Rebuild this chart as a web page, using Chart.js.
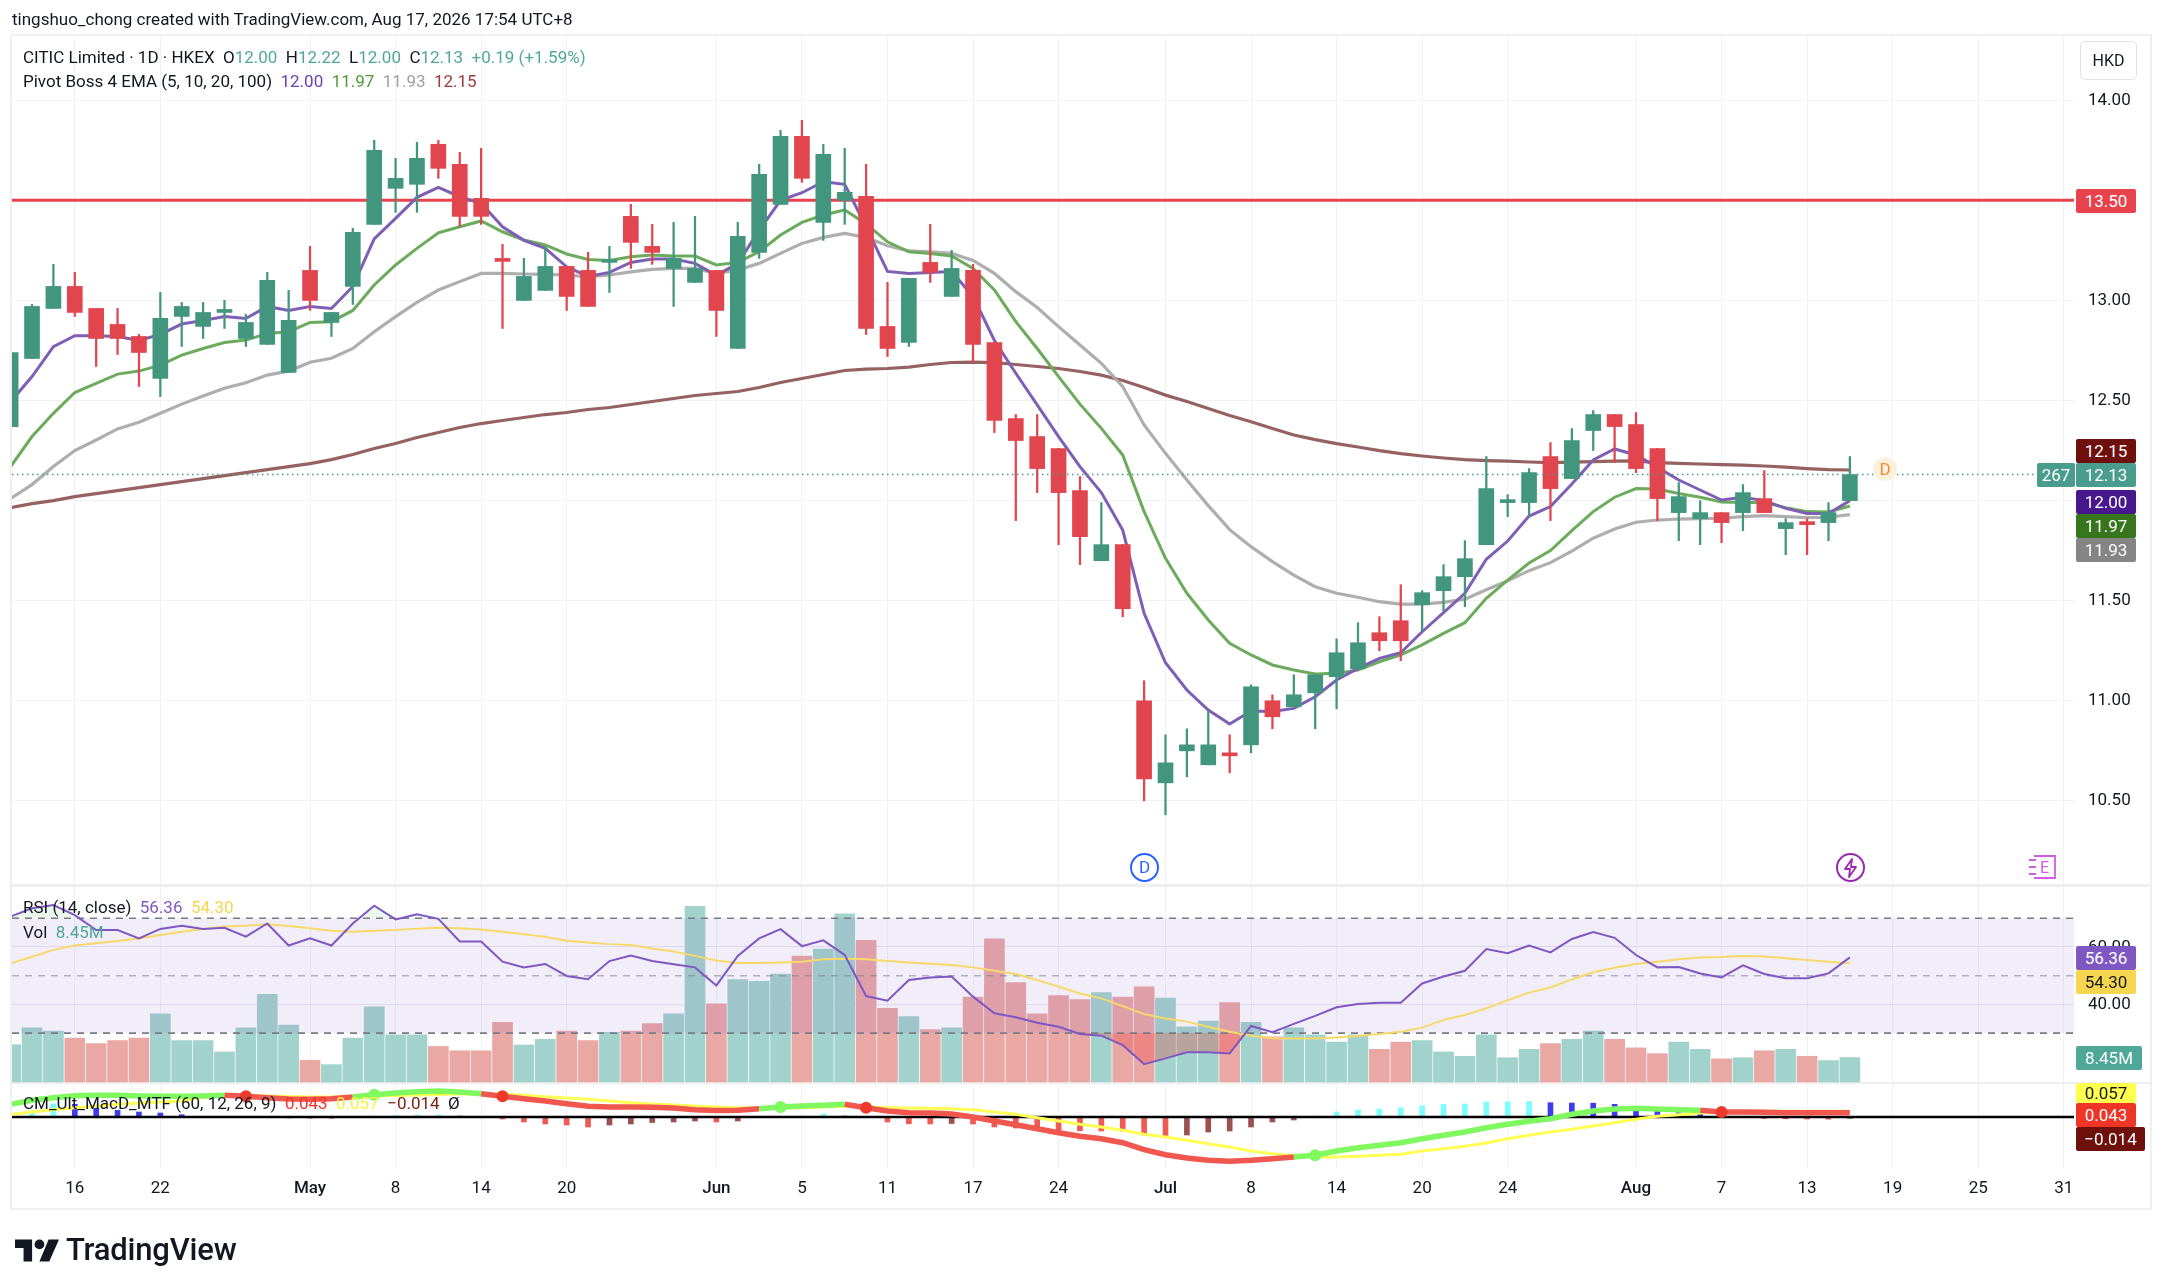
<!DOCTYPE html>
<html>
<head>
<meta charset="utf-8">
<title>CITIC Limited</title>
<script src="https://cdn.jsdelivr.net/npm/chart.js@4"></script>
<style>
  html, body { margin: 0; padding: 0; background: #fff; }
  body { width: 2162px; height: 1286px; position: relative; overflow: hidden; font-family: Roboto, sans-serif; color: #131722; }
  canvas { position: absolute; left: 0; top: 0; }
  .frame { position: absolute; left: 10px; top: 34px; width: 2138px; height: 1172px; border: 2px solid #f0f0f0; }
  .txt { position: absolute; white-space: pre; font-size: 17px; line-height: 20px; }
  .tag { position: absolute; left: 2076px; width: 60px; height: 24px; line-height: 24px; text-align: center; font-size: 17px; color: #fff; border-radius: 2px; }
  .up { color: #4fa897; } .pu { color: #6a3fb0; } .gr { color: #4f9a3c; } .gy { color: #a0a0a0; } .br { color: #a03c3c; }
  .hkd { position: absolute; left: 2080px; top: 41px; width: 55px; height: 37px; line-height: 37px; border: 1px solid #e0e3eb; border-radius: 5px; text-align: center; font-size: 16px; }
  .ico { position: absolute; }
</style>
</head>
<body>
<div class="frame"></div>
<canvas id="chart" width="2162" height="1286"></canvas>

<div class="txt" style="left:12px;top:9px">tingshuo_chong created with TradingView.com, Aug 17, 2026 17:54 UTC+8</div>
<div class="txt" style="left:23px;top:47px">CITIC Limited · 1D · HKEX  O<span class="up">12.00</span>  H<span class="up">12.22</span>  L<span class="up">12.00</span>  C<span class="up">12.13</span>  <span class="up">+0.19 (+1.59%)</span></div>
<div class="txt" style="left:23px;top:71px">Pivot Boss 4 EMA (5, 10, 20, 100)  <span class="pu">12.00</span>  <span class="gr">11.97</span>  <span class="gy">11.93</span>  <span class="br">12.15</span></div>
<div class="txt" style="left:23px;top:897px">RSI (14, close)  <span style="color:#7e57c2">56.36</span>  <span style="color:#f7d64f">54.30</span></div>
<div class="txt" style="left:23px;top:922px">Vol  <span class="up">8.45M</span></div>
<div class="txt" style="left:23px;top:1093px">CM_Ult_MacD_MTF (60, 12, 26, 9)  <span style="color:#f0352a">0.043</span>  <span style="color:#f5f53c">0.057</span>  <span style="color:#7a1f14">−0.014</span>  Ø</div>

<div class="hkd">HKD</div>
<div class="txt" style="left:2088px;top:936px">60.00</div>
<div class="txt" style="left:2088px;top:993px">40.00</div>
<div class="tag" style="top:189px;background:#e8434c">13.50</div>
<div class="tag" style="top:439px;background:#6e100b">12.15</div>
<div class="tag" style="top:463px;left:2037px;width:38px;background:#4a9c8c">267</div>
<div class="tag" style="top:463px;background:#4a9c8c">12.13</div>
<div class="tag" style="top:490px;background:#47178e">12.00</div>
<div class="tag" style="top:514px;background:#38761d">11.97</div>
<div class="tag" style="top:538px;background:#858585">11.93</div>
<div class="tag" style="top:946px;background:#7e57c2">56.36</div>
<div class="tag" style="top:970px;background:#f7d64f;color:#131722">54.30</div>
<div class="tag" style="top:1046px;width:66px;background:#4fa897">8.45M</div>
<div class="tag" style="top:1083px;height:20px;line-height:20px;background:#ffff4d;color:#131722">0.057</div>
<div class="tag" style="top:1103px;background:#ee3526">0.043</div>
<div class="tag" style="top:1127px;width:69px;background:#6e100b">−0.014</div>

<div class="ico" style="left:1130px;top:853px;width:25px;height:25px;border:2.5px solid #2962ff;border-radius:50%;color:#2962ff;text-align:center;line-height:25px;font-size:17px">D</div>
<div class="ico" style="left:1836px;top:853px;width:25px;height:25px;border:2.5px solid #9c27b0;border-radius:50%"></div>
<svg class="ico" style="left:1842px;top:858px" width="18" height="20" viewBox="0 0 18 20"><path d="M10 1L3 11h5l-1 8 7-10H9z" fill="none" stroke="#9c27b0" stroke-width="1.8" stroke-linejoin="round"/></svg>
<svg class="ico" style="left:2027px;top:854px" width="30" height="26" viewBox="0 0 30 26"><path d="M7 2h21v22H7M2 6h7M2 13h7M2 20h7" fill="none" stroke="#d05ce3" stroke-width="1.8"/><text x="13" y="19" font-size="16" font-family="Roboto" fill="#d05ce3">E</text></svg>
<div class="ico" style="left:1873px;top:457px;width:24px;height:24px;border-radius:50%;background:#fdf0df;color:#f28c28;text-align:center;line-height:24px;font-size:17px">D</div>

<svg class="ico" style="left:15px;top:1237px" width="44" height="27" viewBox="0 0 36 22"><path d="M14 20H7V9H0V2h14zM28 20h-8l7.5-18H36z" fill="#131722"/><circle cx="20" cy="6" r="4" fill="#131722"/></svg>
<div class="txt" style="left:66px;top:1231px;font-size:31px;line-height:38px;font-weight:500;letter-spacing:-.2px">TradingView</div>

<script>
// one value per trading bar
const open = [
  12.37,12.71,12.96,13.07,12.96,12.88,12.82,12.61,12.92,12.87,
  12.94,12.81,12.78,12.64,13.15,12.89,13.07,13.38,13.56,13.58,
  13.78,13.68,13.51,13.21,13.00,13.05,13.17,13.15,13.19,13.42,
  13.27,13.16,13.09,13.15,12.76,13.24,13.48,13.82,13.39,13.50,
  13.52,12.87,12.79,13.19,13.02,13.15,12.79,12.41,12.32,12.26,
  12.05,11.70,11.78,11.00,10.59,10.75,10.68,10.74,10.78,11.00,
  10.97,11.04,11.12,11.16,11.34,11.40,11.48,11.55,11.62,11.78,
  11.99,11.99,12.22,12.11,12.35,12.43,12.38,12.26,11.94,11.91,
  11.94,11.94,12.01,11.86,11.895,11.89,12.00];
const high = [
  12.74,12.98,13.18,13.14,12.96,12.96,12.83,13.04,12.99,12.99,
  13.00,12.93,13.14,13.05,13.27,12.94,13.36,13.80,13.71,13.79,
  13.80,13.74,13.76,13.28,13.21,13.27,13.17,13.24,13.27,13.48,
  13.38,13.39,13.42,13.15,13.39,13.68,13.85,13.90,13.78,13.76,
  13.68,13.09,13.11,13.38,13.25,13.18,12.79,12.43,12.43,12.26,
  12.12,11.99,11.78,11.10,10.83,10.86,10.95,10.83,11.08,11.03,
  11.13,11.13,11.31,11.39,11.42,11.58,11.55,11.68,11.80,12.22,
  12.03,12.16,12.29,12.36,12.45,12.43,12.44,12.26,12.09,12.00,
  11.94,12.08,12.15,11.91,11.91,11.99,12.22];
const low = [
  12.37,12.71,12.96,12.92,12.67,12.73,12.57,12.52,12.77,12.81,
  12.86,12.77,12.78,12.64,12.95,12.82,12.98,13.38,13.44,13.44,
  13.61,13.37,13.38,12.86,13.00,13.05,12.95,12.97,13.04,13.16,
  13.18,12.97,13.09,12.82,12.76,13.21,13.48,13.59,13.30,13.38,
  12.83,12.72,12.77,13.09,13.02,12.69,12.34,11.90,12.04,11.78,
  11.68,11.70,11.42,10.50,10.43,10.62,10.68,10.64,10.74,10.86,
  10.97,10.86,10.96,11.16,11.25,11.20,11.35,11.45,11.47,11.78,
  11.92,11.92,11.90,12.11,12.25,12.19,12.14,11.90,11.80,11.78,
  11.79,11.85,11.94,11.73,11.73,11.80,12.00];
const close = [
  12.74,12.97,13.07,12.94,12.81,12.81,12.74,12.91,12.97,12.94,
  12.955,12.89,13.10,12.90,13.00,12.94,13.34,13.75,13.61,13.71,
  13.66,13.42,13.42,13.195,13.12,13.17,13.02,12.97,13.205,13.29,
  13.24,13.21,13.16,12.95,13.32,13.63,13.82,13.61,13.73,13.54,
  12.86,12.76,13.11,13.14,13.16,12.78,12.40,12.30,12.16,12.04,
  11.82,11.78,11.46,10.61,10.69,10.78,10.78,10.725,11.07,10.92,
  11.03,11.13,11.24,11.29,11.30,11.30,11.54,11.62,11.71,12.06,
  12.005,12.14,12.06,12.30,12.43,12.37,12.16,12.01,12.02,11.94,
  11.89,12.04,11.94,11.89,11.88,11.94,12.13];

const ema5 = [
  12.494,12.62,12.769,12.824,12.824,12.82,12.80,12.83,12.882,12.90,
  12.92,12.91,12.97,12.95,12.97,12.96,13.07,13.307,13.41,13.515,
  13.565,13.518,13.485,13.368,13.30,13.26,13.168,13.12,13.14,13.19,
  13.207,13.207,13.185,13.125,13.185,13.35,13.50,13.538,13.593,13.58,
  13.368,13.145,13.135,13.14,13.144,13.02,12.80,12.636,12.478,12.32,
  12.17,12.04,11.853,11.437,11.19,11.054,10.954,10.884,10.949,10.946,
  10.962,11.02,11.104,11.162,11.212,11.24,11.345,11.44,11.537,11.707,
  11.798,11.923,11.97,12.083,12.203,12.258,12.228,12.166,12.103,12.053,
  12.003,12.017,12.00,11.961,11.936,11.936,12.00];
const ema10 = [
  12.17,12.32,12.436,12.54,12.586,12.632,12.647,12.677,12.727,12.76,
  12.79,12.802,12.835,12.844,12.89,12.894,12.95,13.077,13.177,13.26,
  13.338,13.368,13.397,13.343,13.302,13.277,13.232,13.205,13.20,13.218,
  13.227,13.222,13.222,13.177,13.19,13.243,13.327,13.39,13.427,13.452,
  13.382,13.293,13.243,13.235,13.222,13.16,13.052,12.894,12.76,12.619,
  12.482,12.361,12.228,11.945,11.712,11.537,11.404,11.287,11.229,11.179,
  11.154,11.134,11.137,11.154,11.195,11.229,11.279,11.337,11.39,11.512,
  11.603,11.688,11.75,11.85,11.945,12.017,12.06,12.058,12.036,12.017,
  11.993,11.991,11.99,11.965,11.945,11.943,11.973];
const ema20 = [
  12.01,12.08,12.17,12.25,12.303,12.358,12.391,12.436,12.482,12.522,
  12.561,12.589,12.627,12.647,12.691,12.711,12.76,12.844,12.919,12.99,
  13.052,13.094,13.135,13.135,13.132,13.13,13.127,13.118,13.127,13.143,
  13.155,13.16,13.16,13.135,13.152,13.185,13.235,13.285,13.315,13.335,
  13.315,13.273,13.248,13.243,13.235,13.20,13.135,13.044,12.965,12.869,
  12.777,12.686,12.569,12.378,12.236,12.103,11.975,11.855,11.77,11.695,
  11.628,11.57,11.537,11.517,11.495,11.483,11.483,11.492,11.508,11.555,
  11.60,11.65,11.69,11.748,11.812,11.858,11.892,11.903,11.908,11.91,
  11.912,11.92,11.925,11.92,11.915,11.917,11.93];
const ema100 = [
  11.965,11.985,12.00,12.02,12.035,12.05,12.065,12.08,12.095,12.11,
  12.125,12.14,12.155,12.17,12.185,12.205,12.23,12.26,12.285,12.315,
  12.34,12.365,12.385,12.40,12.415,12.43,12.44,12.455,12.465,12.48,
  12.495,12.51,12.525,12.535,12.545,12.565,12.59,12.61,12.63,12.65,
  12.657,12.66,12.667,12.68,12.69,12.692,12.69,12.68,12.67,12.66,
  12.645,12.627,12.60,12.565,12.527,12.495,12.46,12.425,12.394,12.36,
  12.328,12.305,12.285,12.268,12.25,12.235,12.223,12.213,12.205,12.20,
  12.197,12.193,12.19,12.192,12.195,12.197,12.198,12.19,12.186,12.183,
  12.18,12.177,12.173,12.167,12.16,12.155,12.153];

const rsi = [
  70.6,73.5,74.6,71.1,65.9,65.9,63.0,66.3,67.4,66.3,
  66.7,63.6,68.2,60.5,63.0,60.5,68.2,74.4,69.6,71.4,
  69.8,61.9,61.9,54.9,52.9,54.1,49.9,48.8,55.1,57.0,
  55.1,54.0,52.9,46.6,56.9,63.0,66.2,60.3,62.3,57.2,
  42.9,41.3,48.5,49.4,49.7,42.7,36.9,35.5,33.6,32.2,
  29.7,29.1,25.8,19.2,21.2,23.3,23.3,22.9,32.5,30.3,
  33.2,36.0,39.0,40.1,40.6,40.6,47.3,49.7,51.7,59.3,
  57.8,60.5,58.1,62.8,65.2,63.2,57.2,52.9,53.0,50.8,
  49.4,53.6,50.6,49.1,49.1,50.8,56.4];
const rsiMa = [
  54.3,56.6,59.0,60.5,61.3,62.1,63.0,64.2,65.3,66.3,
  67.1,67.4,67.9,67.3,66.5,65.7,65.3,65.7,65.9,66.4,
  66.7,66.5,66.1,65.3,64.4,63.6,62.2,61.6,61.0,60.7,
  59.5,58.4,56.9,55.3,54.4,54.4,54.6,54.9,55.7,55.9,
  55.7,55.1,54.6,54.2,53.7,52.9,51.7,50.6,48.5,46.2,
  43.8,42.1,39.4,36.6,35.1,34.0,32.2,30.5,29.1,28.2,
  28.1,28.1,28.5,29.0,29.7,30.5,31.9,34.6,36.3,38.6,
  41.5,44.1,45.9,48.7,51.2,52.8,54.1,54.9,55.7,56.3,
  56.5,56.9,56.7,56.1,55.5,54.9,54.3];
const rsiLevels = [70, 50, 30];

const volume = [
  12.9,18.7,17.6,15.2,13.3,14.3,15.2,23.6,14.3,14.3,
  10.4,18.7,30.3,19.7,7.5,6.0,15.2,26.0,16.3,16.3,
  12.3,10.8,10.8,20.6,12.8,14.8,17.6,14.3,17.2,17.6,
  20.2,23.6,60.8,27.0,35.4,34.8,37.3,43.6,46.0,58.2,
  49.0,25.5,22.6,18.1,18.7,29.4,49.5,34.4,23.6,29.9,
  28.5,30.9,29.4,32.9,29.0,19.1,21.1,27.5,20.6,15.6,
  18.7,16.3,13.8,16.3,11.3,13.8,14.3,10.4,8.9,16.3,
  8.4,11.3,13.3,14.8,17.6,14.8,11.8,9.8,13.8,11.3,
  8.0,8.4,10.8,11.3,8.9,7.4,8.45];

const macd = [
  .127,.167,.193,.213,.217,.217,.21,.207,.207,.21,
  .217,.207,.193,.18,.177,.183,.2,.223,.24,.253,
  .26,.25,.233,.207,.183,.16,.133,.107,.1,.1,
  .097,.09,.073,.065,.067,.083,.1,.11,.117,.127,
  .093,.06,.043,.04,.03,0,-.04,-.077,-.117,-.157,
  -.193,-.217,-.257,-.327,-.377,-.41,-.433,-.443,-.433,-.417,
  -.4,-.383,-.34,-.307,-.283,-.257,-.217,-.183,-.15,-.107,
  -.073,-.043,-.017,.027,.06,.08,.087,.08,.073,.067,
  .05,.05,.047,.043,.043,.043,.043];
const signal = [
  .027,.05,.073,.093,.107,.127,.14,.15,.16,.2,
  .212,.215,.21,.205,.2,.2,.205,.21,.215,.22,
  .225,.23,.232,.227,.217,.203,.19,.177,.16,.143,
  .13,.12,.11,.1,.093,.09,.093,.093,.1,.107,
  .1,.093,.09,.087,.083,.073,.05,.027,-.007,-.04,
  -.073,-.1,-.133,-.173,-.2,-.233,-.267,-.3,-.34,-.367,
  -.387,-.4,-.4,-.393,-.383,-.373,-.34,-.317,-.293,-.26,
  -.217,-.183,-.15,-.123,-.09,-.057,-.023,.007,.023,.04,
  .053,.057,.057,.057,.057,.057,.057];
const hist = [
  .01,.05,.133,.127,.09,.067,.05,.04,.023,.005,
  .002,0,-.002,-.01,-.012,-.013,0,.01,.015,.018,
  .02,.01,.002,-.02,-.05,-.07,-.08,-.1,-.08,-.07,
  -.055,-.05,-.04,-.05,-.04,0,0,.01,.03,.01,
  0,-.05,-.068,-.07,-.065,-.07,-.1,-.11,-.13,-.135,
  -.138,-.14,-.142,-.18,-.185,-.18,-.15,-.14,-.1,-.05,
  -.03,.01,.05,.07,.08,.093,.11,.125,.13,.15,
  .152,.155,.143,.14,.138,.127,.097,.07,.043,.027,
  0,0,-.015,-.018,-.02,-.022,-.014];
const macdCross = [11, 17, 23, 36, 40, 61, 80];

const tickBars = [3, 7, 14, 18, 22, 26, 33, 37, 41, 45, 49, 54, 58, 62, 66, 70, 76, 80, 84, 88, 92, 96];
const tickLabels = ["16", "22", "May", "8", "14", "20", "Jun", "5", "11", "17", "24", "Jul", "8", "14", "20", "24", "Aug", "7", "13", "19", "25", "31"];
const priceTicks = [10.5, 11, 11.5, 12, 12.5, 13, 13.5, 14];
const rsiTicks = [40, 60];
const resistance = 13.5;
const lastClose = 12.13;

const UP = "#43967e", DOWN = "#e1454e";
const xMin = 0.064, xMax = 96.48;

const series = (arr) => arr.map((v, i) => ({ x: i, y: v }));
const level = (v) => [{ x: xMin, y: v }, { x: xMax, y: v }];
const dirColor = (a, b) => open.map((o, i) => (close[i] >= o ? a : b));

const histColors = hist.map((v, i) => {
  const prev = i ? hist[i - 1] : 0;
  if (v >= 0) return v > prev ? "#7dfdfd" : "#3d3df0";
  return v < prev ? "#ee5a54" : "#9c5050";
});

const line = (data, color, width, yAxisID, order, extra) =>
  Object.assign({ type: "line", data, borderColor: color, borderWidth: width, pointRadius: 0, yAxisID, order }, extra);

const fixedTicks = (values) => (s) => { s.ticks = values.map((v) => ({ value: v })); };
const isMonth = (v) => isNaN(tickLabels[tickBars.indexOf(v)]);

new Chart(document.getElementById("chart"), {
  data: {
    datasets: [
      // price pane
      { type: "bar", data: open.map((o, i) => ({ x: i, y: [low[i], high[i]] })), backgroundColor: dirColor(UP, DOWN), barThickness: 1.6, grouped: false, yAxisID: "price", order: 5 },
      { type: "bar", data: open.map((o, i) => ({ x: i, y: [o, close[i]] })), backgroundColor: dirColor(UP, DOWN), barThickness: 15, grouped: false, yAxisID: "price", order: 4 },
      line(level(resistance), "#e8434c", 3, "price", 11),
      line(series(ema100), "rgba(139,80,80,.9)", 3.2, "price", 10),
      line(series(ema20), "rgba(170,170,170,.95)", 3.2, "price", 9),
      line(series(ema10), "#6cab5c", 3, "price", 8),
      line(series(ema5), "#7e5fb5", 3, "price", 7),
      line(level(lastClose), "#4a9c8c", 1.5, "price", 3, { borderDash: [1.5, 3.5] }),

      // volume under the rsi band
      { type: "bar", data: series(volume), backgroundColor: dirColor("#a1d2cb", "#eaa8a5"), barThickness: 20, grouped: false, yAxisID: "vol", order: 30 },

      // rsi pane
      line(level(rsiLevels[0]), "rgba(0,0,0,0)", 0, "rsi", 29, { fill: "+1", backgroundColor: "rgba(126,87,194,.1)" }),
      line(level(rsiLevels[2]), "rgba(0,0,0,0)", 0, "rsi", 28),
      line(series(rsi), "rgba(0,0,0,0)", 0, "rsi", 27, { fill: { target: { value: 30 }, above: "rgba(0,0,0,0)", below: "rgba(240,60,60,.3)" } }),
      line(series(rsi), "rgba(0,0,0,0)", 0, "rsi", 26, { fill: { target: { value: 70 }, above: "rgba(60,200,80,.1)", below: "rgba(0,0,0,0)" } }),
      line(level(rsiLevels[0]), "#787b86", 1.6, "rsi", 25, { borderDash: [7, 6] }),
      line(level(rsiLevels[1]), "rgba(120,123,134,.55)", 1.6, "rsi", 24, { borderDash: [7, 6] }),
      line(level(rsiLevels[2]), "#787b86", 1.6, "rsi", 23, { borderDash: [7, 6] }),
      line(series(rsiMa), "#f7d96a", 2, "rsi", 22),
      line(series(rsi), "#7e57c2", 2, "rsi", 21),

      // macd pane
      { type: "bar", data: series(hist), backgroundColor: histColors, barThickness: 5, grouped: false, yAxisID: "macd", order: 44 },
      line(level(0), "#000", 2.6, "macd", 43),
      line(series(signal), "#ffff55", 3, "macd", 42),
      line(series(macd), "#7ff95f", 5.5, "macd", 41, {
        segment: { borderColor: (c) => (macd[c.p1DataIndex] >= signal[c.p1DataIndex] ? "#7ff95f" : "#f0574f") },
        pointRadius: (c) => (macdCross.includes(c.dataIndex) ? 6 : 0),
        pointBackgroundColor: (c) => (macd[c.dataIndex] >= signal[c.dataIndex] ? "#7ff95f" : "#ee3a2a"),
        pointBorderWidth: 0,
      }),
    ],
  },
  options: {
    responsive: false,
    animation: false,
    devicePixelRatio: 1,
    layout: { autoPadding: false, padding: { left: 12, top: 36, right: 0, bottom: 78 } },
    plugins: {
      legend: { display: false },
      tooltip: { enabled: false },
    },
    scales: {
      x: {
        type: "linear", min: xMin, max: xMax, offset: false,
        afterBuildTicks: fixedTicks(tickBars),
        afterFit: (s) => { s.height = 40; s.paddingLeft = 0; s.paddingRight = 0; },
        grid: { color: "#f2f2f2", drawTicks: false, offset: false },
        border: { display: false },
        ticks: {
          autoSkip: false, maxRotation: 0, padding: 11, color: "#131722",
          font: (c) => ({ family: "Roboto", size: 17, weight: c.tick && isMonth(c.tick.value) ? 500 : 400 }),
          callback: (v) => tickLabels[tickBars.indexOf(v)],
        },
      },
      price: {
        axis: "y", position: "right", min: 8.666, max: 14.321, weight: 2,
        afterBuildTicks: fixedTicks(priceTicks),
        afterFit: (s) => { s.width = 88; s.paddingTop = 0; s.paddingBottom = 0; },
        grid: { color: "#f2f2f2", drawTicks: false },
        border: { display: false },
        ticks: { padding: 14, color: "#131722", font: { family: "Roboto", size: 17 }, callback: (v) => v.toFixed(2) },
      },
      rsi: {
        axis: "y", position: "right", min: -17, max: 377.4, weight: 1,
        afterBuildTicks: fixedTicks(rsiTicks),
        afterFit: (s) => { s.width = 0; },
        grid: { color: "#e9e6f2", drawTicks: false },
        border: { display: false },
        ticks: { display: false },
      },
      vol: { axis: "y", min: -29.76, max: 361.9, display: false },
      macd: { axis: "y", min: -0.51, max: 10.81, display: false },
    },
  },
  plugins: [{
    // pane dividers
    id: "paneLines",
    beforeDatasetsDraw(chart) {
      const { ctx, chartArea: a } = chart;
      ctx.save();
      ctx.fillStyle = "#efefef";
      ctx.fillRect(a.left, 884, a.right - a.left + 78, 3);
      ctx.fillRect(a.left, 1082, a.right - a.left + 78, 2);
      ctx.restore();
    },
  }],
});
</script>
</body>
</html>
